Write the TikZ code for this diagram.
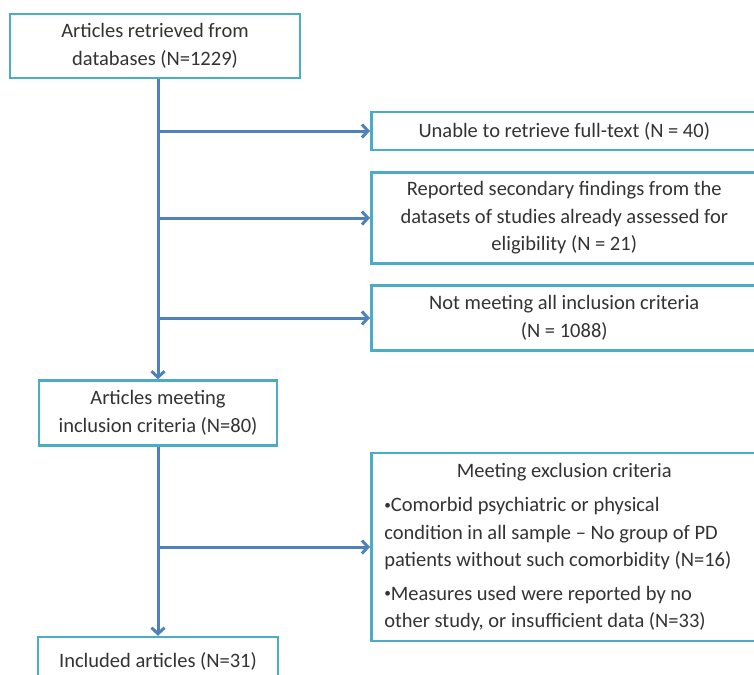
\documentclass[tikz,border=0pt]{standalone}
\usepackage{fontspec}
\setmainfont{Carlito}
\usetikzlibrary{arrows.meta}
\definecolor{boxline}{HTML}{4BACC6}
\definecolor{flowline}{HTML}{4F81BD}
\definecolor{boxtext}{HTML}{333333}
\newcommand{\smallbul}{\raisebox{0.12em}{\scalebox{0.65}{•}}}

\begin{document}
\begin{tikzpicture}[x=1pt, y=-1pt]
    \useasboundingbox (0,0) rectangle (754,674);
    \clip (0,0) rectangle (754,674);

    \begin{scope}[every node/.style={draw=boxline, line width=2.5pt, fill=white, text=boxtext, align=center, inner sep=0pt, font=\fontsize{20.5}{27.5}\selectfont}]
        \node[minimum width=290pt, minimum height=64pt] (ret) at (155,46) {Articles retrieved from\\databases (N=1229)};
        \node[anchor=west, minimum width=386pt, minimum height=38pt] (full) at (370,131) {Unable to retrieve full-text (N = 40)};
        \node[anchor=west, minimum width=386pt, minimum height=91pt] (sec) at (370,218) {Reported secondary findings from the\\datasets of studies already assessed for\\eligibility (N = 21)};
        \node[anchor=west, minimum width=386pt, minimum height=65pt] (notm) at (370,318) {Not meeting all inclusion criteria\\(N = 1088)};
        \node[minimum width=238pt, minimum height=65pt] (meet) at (158,413) {Articles meeting\\inclusion criteria (N=80)};
        \node[anchor=west, minimum width=386pt, minimum height=188pt, align=left] (excl) at (370,547) {\makebox[360pt]{Meeting exclusion criteria}\\[7pt]
            \smallbul Comorbid psychiatric or physical\\
            condition in all sample – No group of PD\\
            patients without such comorbidity (N=16)\\[6pt]
            \smallbul Measures used were reported by no\\
            other study, or insufficient data (N=33)};
        \node[minimum width=240pt, minimum height=48pt] (final) at (158,661) {Included articles (N=31)};
    \end{scope}

    \begin{scope}[>={Straight Barb[length=6pt, width=13pt]}, line width=3pt, draw=flowline]
        \draw[->] (ret.south -| meet.north) -- (meet.north);
        \draw[->] (full.west -| meet.north) -- (full.west);
        \draw[->] (sec.west -| meet.north) -- (sec.west);
        \draw[->] (notm.west -| meet.north) -- (notm.west);
        \draw[->] (meet.south) -- (final.north);
        \draw[->] (excl.west -| meet.south) -- (excl.west);
    \end{scope}
\end{tikzpicture}
\end{document}
